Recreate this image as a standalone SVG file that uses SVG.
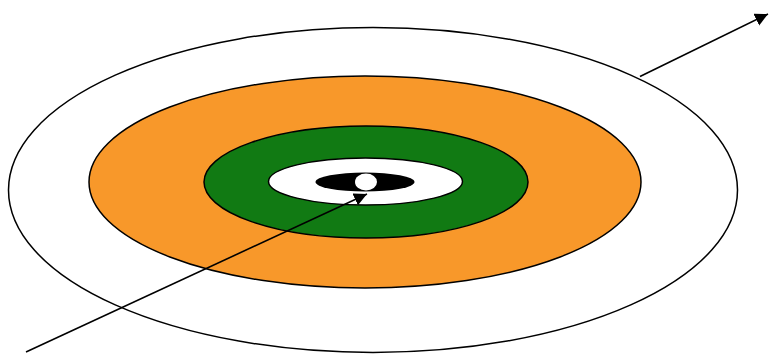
<svg xmlns="http://www.w3.org/2000/svg" width="769" height="354" viewBox="0 0 769 354">
<style>
.ring{stroke:#000;stroke-width:1.5}
.conn{stroke:#000;stroke-width:1.6;fill:none}
</style>
<defs>
<marker id="ah" markerUnits="userSpaceOnUse" markerWidth="14" markerHeight="14" refX="13" refY="6.5" orient="auto">
<path d="M0,0 L13,6.5 L0,13 Z" fill="#000"/>
</marker>
</defs>
<rect width="769" height="354" fill="#fff"/>
<g id="outer"><ellipse class="ring" cx="373" cy="190" rx="364.5" ry="162.5" fill="#fff"/></g>
<g id="orange"><ellipse class="ring" cx="365" cy="182" rx="276" ry="106" fill="#F8982A"/></g>
<g id="green"><ellipse class="ring" cx="366" cy="182" rx="162" ry="56" fill="#117A13"/></g>
<g id="white"><ellipse class="ring" cx="365.5" cy="181.5" rx="97" ry="23.5" fill="#fff"/></g>
<g id="black"><ellipse cx="365" cy="182" rx="49.5" ry="9.5" fill="#000"/></g>
<g id="center"><ellipse cx="366" cy="182" rx="11" ry="8.5" fill="#fff"/></g>
<g id="connectors">
<line class="conn" x1="26" y1="352" x2="367" y2="194" marker-end="url(#ah)"/>
<line class="conn" x1="640" y1="76.5" x2="768" y2="14" marker-end="url(#ah)"/>
</g>
</svg>
